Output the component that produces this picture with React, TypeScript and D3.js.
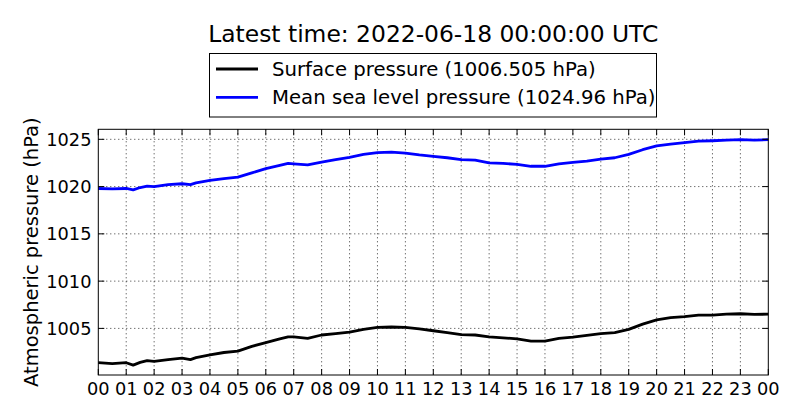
import * as d3 from 'd3';

// hours since 2022-06-17 00:00 UTC
const hours = [0, 0.5, 1, 1.25, 1.5, 1.75, 2, 2.5, 3, 3.3, 3.5, 4, 4.5, 5, 5.5, 6, 6.5, 6.8, 7, 7.5, 8, 8.5, 9, 9.5, 10, 10.5, 11, 11.5, 12, 12.5, 13, 13.5, 14, 14.5, 15, 15.5, 16, 16.5, 17, 17.5, 18, 18.5, 19, 19.5, 20, 20.5, 21, 21.5, 22, 22.5, 23, 23.5, 24];

const surface = [1001.37, 1001.27, 1001.37, 1001.12, 1001.4, 1001.6, 1001.5, 1001.7, 1001.85, 1001.7, 1001.9, 1002.2, 1002.45, 1002.6, 1003.1, 1003.5, 1003.9, 1004.1, 1004.1, 1003.95, 1004.3, 1004.45, 1004.6, 1004.9, 1005.1, 1005.15, 1005.1, 1004.95, 1004.75, 1004.55, 1004.35, 1004.3, 1004.1, 1004.0, 1003.9, 1003.65, 1003.65, 1003.95, 1004.08, 1004.25, 1004.45, 1004.55, 1004.9, 1005.45, 1005.9, 1006.15, 1006.25, 1006.4, 1006.4, 1006.5, 1006.55, 1006.48, 1006.505];

const msl = [1019.8, 1019.75, 1019.8, 1019.65, 1019.9, 1020.05, 1020.0, 1020.2, 1020.3, 1020.2, 1020.4, 1020.65, 1020.85, 1021.0, 1021.45, 1021.9, 1022.25, 1022.45, 1022.4, 1022.3, 1022.6, 1022.85, 1023.1, 1023.4, 1023.6, 1023.65, 1023.55, 1023.35, 1023.2, 1023.05, 1022.85, 1022.8, 1022.5, 1022.45, 1022.35, 1022.15, 1022.15, 1022.4, 1022.55, 1022.7, 1022.9, 1023.05, 1023.4, 1023.9, 1024.3, 1024.5, 1024.65, 1024.8, 1024.85, 1024.92, 1024.97, 1024.92, 1024.96];

const xTicks = d3.range(0, 25);
const xTickLabels = xTicks.map(h => String(h % 24).padStart(2, '0'));
const yTicks = [1005, 1010, 1015, 1020, 1025];

const legendItems = [
  { label: 'Surface pressure (1006.505 hPa)', color: '#000000' },
  { label: 'Mean sea level pressure (1024.96 hPa)', color: '#0000ff' },
];

const title = 'Latest time: 2022-06-18 00:00:00 UTC';
const yLabel = 'Atmospheric pressure (hPa)';

const W = 800;
const H = 420;
const m = { left: 98.3, right: 768.3, top: 129.3, bottom: 375 };
const font = '"DejaVu Sans", sans-serif';

export default function App() {
  const x = d3.scaleLinear().domain([0, 24]).range([m.left, m.right]);
  const y = d3.scaleLinear().domain([1000.07, 1026.06]).range([m.bottom, m.top]);

  const line = d3.line<number>()
    .x((_, i) => x(hours[i]))
    .y(d => y(d));

  const tick = 6;

  return (
    <svg width={W} height={H} style={{ position: 'absolute', left: 0, top: 0, background: '#fff' }}>
      {/* title */}
      <text x={(m.left + m.right) / 2} y={42} textAnchor="middle" fontFamily={font} fontSize={23.4}>{title}</text>

      {/* legend */}
      <rect x={209.5} y={53.5} width={447} height={63.5} fill="#fff" stroke="#000" strokeWidth={1} />
      {legendItems.map((d, i) => (
        <g key={d.label} transform={`translate(0, ${69 + i * 28.3})`}>
          <line x1={216} x2={258} y1={0} y2={0} stroke={d.color} strokeWidth={2.8} />
          <text x={272} y={0} dy="0.36em" fontFamily={font} fontSize={19.7}>{d.label}</text>
        </g>
      ))}

      {/* grid */}
      <g stroke="#000" strokeWidth={0.8} strokeDasharray="1,3">
        {xTicks.slice(1, -1).map(t => (
          <line key={'gx' + t} x1={x(t)} x2={x(t)} y1={m.top} y2={m.bottom} />
        ))}
        {yTicks.map(t => (
          <line key={'gy' + t} x1={m.left} x2={m.right} y1={y(t)} y2={y(t)} />
        ))}
      </g>

      {/* series */}
      <path d={line(msl) || ''} fill="none" stroke="#0000ff" strokeWidth={2.8} strokeLinejoin="round" />
      <path d={line(surface) || ''} fill="none" stroke="#000000" strokeWidth={2.8} strokeLinejoin="round" />

      {/* ticks, inward on all sides */}
      <g stroke="#000" strokeWidth={1}>
        {xTicks.map(t => (
          <g key={'tx' + t}>
            <line x1={x(t)} x2={x(t)} y1={m.bottom} y2={m.bottom - tick} />
            <line x1={x(t)} x2={x(t)} y1={m.top} y2={m.top + tick} />
          </g>
        ))}
        {yTicks.map(t => (
          <g key={'ty' + t}>
            <line x1={m.left} x2={m.left + tick} y1={y(t)} y2={y(t)} />
            <line x1={m.right} x2={m.right - tick} y1={y(t)} y2={y(t)} />
          </g>
        ))}
      </g>

      {/* frame */}
      <rect x={m.left} y={m.top} width={m.right - m.left} height={m.bottom - m.top} fill="none" stroke="#000" strokeWidth={1} />

      {/* tick labels */}
      {xTicks.map((t, i) => (
        <text key={'lx' + t} x={x(t)} y={395} textAnchor="middle" fontFamily={font} fontSize={17.8}>{xTickLabels[i]}</text>
      ))}
      {yTicks.map(t => (
        <text key={'ly' + t} x={91.5} y={y(t)} dy="0.36em" textAnchor="end" fontFamily={font} fontSize={17.8}>{t}</text>
      ))}

      {/* y label */}
      <text transform={`translate(37.5, ${(m.top + m.bottom) / 2}) rotate(-90)`} textAnchor="middle" fontFamily={font} fontSize={19.5}>{yLabel}</text>
    </svg>
  );
}
